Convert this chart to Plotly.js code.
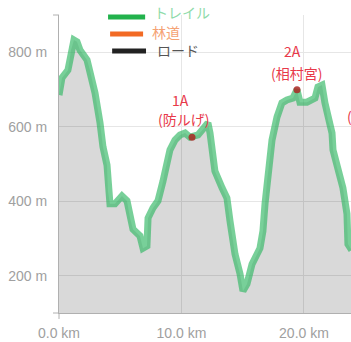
<!DOCTYPE html>
<html><head><meta charset="utf-8">
<script src="https://cdn.plot.ly/plotly-3.0.1.min.js"></script>
<style>html,body{margin:0;padding:0;background:#fff;overflow:hidden}#c{width:351px;height:342px}</style>
</head><body><div id="c"></div>
<script>
// distance (km) and elevation (m)
const distKm = [0,0.24,0.73,0.98,1.22,1.47,1.71,2.29,2.53,2.94,3.35,3.59,3.92,4.0,4.16,4.57,5.14,5.55,5.80,6.04,6.61,6.86,7.18,7.27,7.67,8.08,8.49,8.65,9.06,9.47,9.88,10.29,10.69,11.35,11.92,12.16,12.33,12.49,12.73,13.31,13.71,13.96,14.37,14.78,15.02,15.35,15.76,16.41,16.65,16.82,16.98,17.39,17.80,18.20,18.61,19.10,19.43,19.67,20.24,20.90,21.14,21.47,21.71,21.96,22.29,22.37,22.69,23.18,23.51,23.59,23.9];
const elevM = [685,731,752,806,833,828,806,779,752,691,610,546,497,427,393,393,414,401,355,325,307,274,280,355,382,401,454,481,538,564,578,583,572,578,599,610,583,538,481,436,409,347,258,205,159,178,231,274,320,393,454,564,626,664,672,677,699,666,666,677,707,712,664,618,583,538,492,436,366,285,269];
const markKm = [10.86, 19.43];
const markM = [572, 699];
const yTicks = [200,400,600,800];
const yTickText = ['200 m','400 m','600 m','800 m'];
const xTicks = [0,10,20];
const xTickText = ['0.0 km','10.0 km','20.0 km'];
const legendLabels = ['トレイル','林道','ロード'];
const legendColors = ['#22b24c','#f26a24','#222222'];
const legendTextColors = ['#8fdbaa','#f5a274','#555555'];
const noteLabels = ['1A','(防ルげ)','2A','(相村宮)','('];
const noteKm = [9.9,10.15,19.1,19.35,23.75];
const noteM = [672,622,804,744,630];

const traces = [
  {x: distKm, y: elevM, type:'scatter', mode:'lines', fill:'tozeroy',
   fillcolor:'rgba(0,0,0,0.15)', line:{width:0, color:'rgba(0,0,0,0)'}, hoverinfo:'skip', showlegend:false},
  {x: distKm, y: elevM, type:'scatter', mode:'lines',
   line:{width:7, color:'rgba(50,184,100,0.66)', shape:'linear'}, showlegend:false},
  {x: markKm, y: markM, type:'scatter', mode:'markers',
   marker:{size:7, color:'rgba(170,40,35,0.85)'}, showlegend:false}
];

const shapes = [];
const lx0 = [0.168,0.175,0.182], lx1 = [0.295,0.288,0.298], ly = [0.993,0.936,0.879];
for (let i=0;i<3;i++) shapes.push({type:'line', xref:'paper', yref:'paper', x0:lx0[i], x1:lx1[i], y0:ly[i], y1:ly[i], line:{color:legendColors[i], width:5}});
shapes.push({type:'line', xref:'paper', yref:'paper', x0:0, x1:0, y0:0, y1:-0.02, line:{color:'#b0b0b0', width:1}});
shapes.push({type:'line', xref:'paper', yref:'paper', x0:-0.0205, x1:0, y0:0, y1:0, line:{color:'#b0b0b0', width:1}});
shapes.push({type:'line', xref:'paper', yref:'paper', x0:-0.0205, x1:0, y0:1, y1:1, line:{color:'#b0b0b0', width:1}});

const annotations = [];
const ax = [0.318,0.312,0.329], ay = [1.01,0.943,0.883];
for (let i=0;i<3;i++) annotations.push({xref:'paper', yref:'paper', x:ax[i], y:ay[i], xanchor:'left', yanchor:'middle', showarrow:false,
  text:legendLabels[i], font:{family:'Noto Sans CJK JP', size:14, color:legendTextColors[i]}});
for (let i=0;i<noteLabels.length;i++) annotations.push({x:noteKm[i], y:noteM[i], showarrow:false, text:noteLabels[i],
  font:{family:'Noto Sans CJK JP', size:14, color:'#e8394a'}});

const layout = {
  width:351, height:342, margin:{l:59, r:0, t:15, b:29},
  paper_bgcolor:'#fff', plot_bgcolor:'#fff',
  font:{family:"'Liberation Sans', Arial, sans-serif", size:14, color:'#a0a0a0'},
  xaxis:{range:[0,23.84], tickmode:'array', tickvals:xTicks, ticktext:xTickText, showgrid:true, gridcolor:'#e6e6e6',
    zeroline:false, showline:true, linecolor:'#b0b0b0', ticks:'outside', ticklen:7, tickcolor:'rgba(0,0,0,0)', fixedrange:true,
    tickfont:{family:"'Liberation Sans', Arial, sans-serif", size:14, color:'#a0a0a0'}},
  yaxis:{range:[100,900], tickmode:'array', tickvals:yTicks, ticktext:yTickText, showgrid:true, gridcolor:'#e6e6e6',
    zeroline:false, showline:true, linecolor:'#b0b0b0', ticks:'outside', ticklen:8, tickcolor:'rgba(0,0,0,0)', fixedrange:true,
    tickfont:{family:"'Liberation Sans', Arial, sans-serif", size:14, color:'#a0a0a0'}},
  shapes: shapes, annotations: annotations, showlegend:false
};
Plotly.newPlot('c', traces, layout, {displayModeBar:false, staticPlot:true});
</script></body></html>
